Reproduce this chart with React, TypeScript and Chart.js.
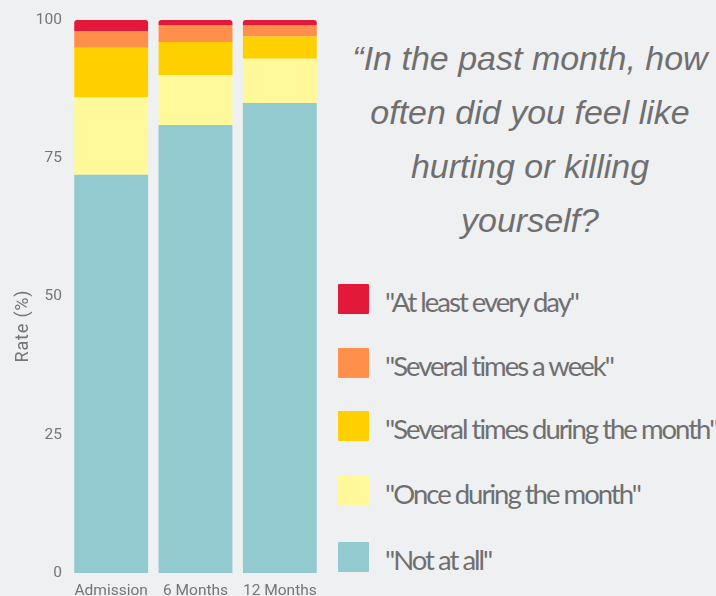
import React, { useEffect, useRef } from "react";
import { Chart, registerables } from "chart.js";

Chart.register(...registerables);

const categories = ["Admission", "6 Months", "12 Months"];
const seriesLabels = [
  '"At least every day"',
  '"Several times a week"',
  '"Several times during the month"',
  '"Once during the month"',
  '"Not at all"',
];
const notAtAll = [72, 81, 85];
const onceDuringMonth = [14, 9, 8];
const severalDuringMonth = [9, 6, 4];
const severalPerWeek = [3, 3, 2];
const everyDay = [2, 1, 1];
const yTicks = [0, 25, 50, 75, 100];

const colors = ["#e3193a", "#ff8f4b", "#ffd000", "#fff99b", "#93cacf"];
const TEXT = "#757575";
const BG = "#eff0f2";

const titleLines = ["\u201cIn the past month, how", "often did you feel like", "hurting or killing", "yourself?"];

export default function App() {
  const ref = useRef<HTMLCanvasElement | null>(null);

  useEffect(() => {
    if (!ref.current) return;
    const yTitlePlugin = {
      id: "yTitle",
      afterDraw(chart: any) {
        const ctx = chart.ctx;
        ctx.save();
        ctx.translate(23, 326);
        ctx.rotate(-Math.PI / 2);
        ctx.font = "18px Roboto";
        try {
          (ctx as any).letterSpacing = "0.8px";
        } catch (e) {}
        ctx.fillStyle = TEXT;
        ctx.textAlign = "center";
        ctx.textBaseline = "middle";
        ctx.fillText("Rate (%)", 0, 0);
        ctx.restore();
      },
    };
    const chart = new Chart(ref.current, {
      type: "bar",
      data: {
        labels: categories,
        datasets: [
          { label: seriesLabels[4], data: notAtAll, backgroundColor: colors[4] },
          { label: seriesLabels[3], data: onceDuringMonth, backgroundColor: colors[3] },
          { label: seriesLabels[2], data: severalDuringMonth, backgroundColor: colors[2] },
          { label: seriesLabels[1], data: severalPerWeek, backgroundColor: colors[1] },
          {
            label: seriesLabels[0],
            data: everyDay,
            backgroundColor: colors[0],
            borderRadius: { topLeft: 3, topRight: 3, bottomLeft: 0, bottomRight: 0 },
            borderSkipped: false,
          },
        ],
      },
      options: {
        responsive: false,
        animation: false,
        layout: { padding: { left: 0, top: 20, right: 8, bottom: 0 } },
        datasets: { bar: { categoryPercentage: 0.876, barPercentage: 1 } },
        plugins: { legend: { display: false }, tooltip: { enabled: false } },
        scales: {
          x: {
            stacked: true,
            grid: { display: false, drawTicks: false },
            border: { display: false },
            ticks: {
              color: TEXT,
              font: { family: "Roboto", size: 15.5 },
              padding: 9,
              maxRotation: 0,
              autoSkip: false,
            },
            afterFit: (s: any) => {
              s.height = 23;
            },
          },
          y: {
            stacked: true,
            min: 0,
            max: 100,
            grid: { display: false, drawTicks: false },
            border: { display: false },
            afterBuildTicks: (s: any) => {
              s.ticks = yTicks.map((v) => ({ value: v }));
            },
            ticks: {
              color: TEXT,
              font: { family: "Roboto", size: 15.5 },
              padding: 7,
            },
            afterFit: (s: any) => {
              s.width = 69;
            },
          },
        },
      },
      plugins: [yTitlePlugin],
    } as any);
    return () => chart.destroy();
  }, []);

  const boxTops = [284, 348, 411, 476, 542];

  return (
    <div
      style={{
        position: "absolute",
        left: 0,
        top: 0,
        width: 716,
        height: 596,
        background: BG,
        overflow: "hidden",
      }}
    >
      <canvas ref={ref} width={330} height={596} style={{ position: "absolute", left: 0, top: 0 }} />
      <div
        style={{
          position: "absolute",
          left: 330,
          width: 400,
          top: 31,
          textAlign: "center",
          fontFamily: "'Liberation Sans', Arial, sans-serif",
          fontStyle: "italic",
          fontSize: 34,
          lineHeight: "54px",
          color: "#6f6f6f",
          whiteSpace: "nowrap",
        }}
      >
        {titleLines.map((l, i) => (
          <div key={i}>{l}</div>
        ))}
      </div>
      {seriesLabels.map((lab, i) => (
        <React.Fragment key={i}>
          <div
            style={{
              position: "absolute",
              left: 338,
              top: boxTops[i],
              width: 31,
              height: 30,
              borderRadius: 1,
              background: colors[i],
            }}
          />
          <div
            style={{
              position: "absolute",
              left: 385,
              top: boxTops[i] + 3,
              lineHeight: "30px",
              fontFamily: "Lato, sans-serif",
              fontSize: 27.5,
              letterSpacing: -2,
              color: "#6f6f6f",
              whiteSpace: "nowrap",
            }}
          >
            {lab}
          </div>
        </React.Fragment>
      ))}
    </div>
  );
}
